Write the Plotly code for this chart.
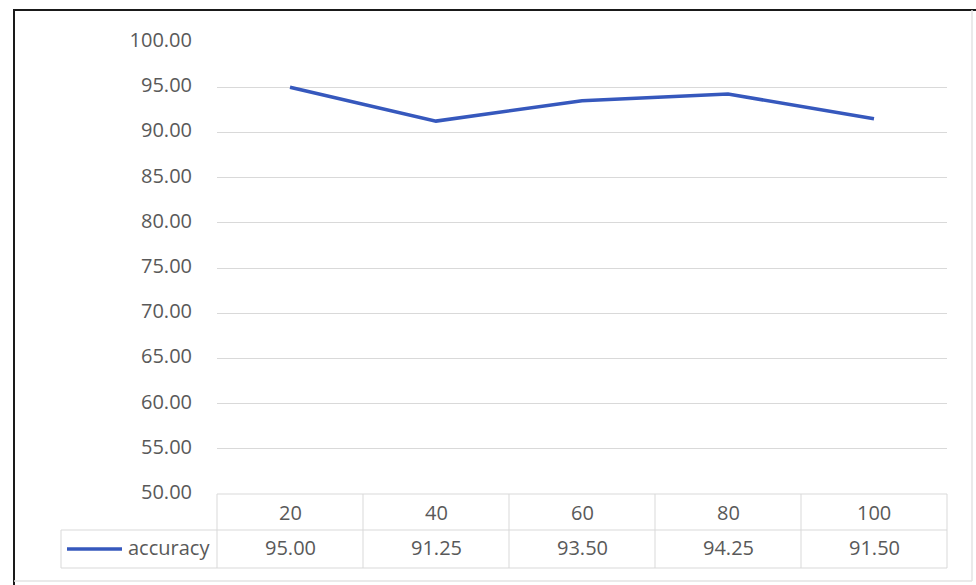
import plotly.graph_objects as go

# Data
categories = ["20", "40", "60", "80", "100"]
accuracy = [95.00, 91.25, 93.50, 94.25, 91.50]
series_name = "accuracy"
y_ticks = [50, 55, 60, 65, 70, 75, 80, 85, 90, 95, 100]

W, H = 976, 585
LINE_COLOR = "#3658BD"
TEXT_COLOR = "#595959"
GRID_COLOR = "#D9D9D9"
FONT = "Open Sans"
FS = 20

# plot-area geometry in pixels
L, R, T, B = 217, 947, 42, 494
ROW1, ROW2 = 530, 568      # table row separators
LEG_LEFT = 61


def px(x):
    return x / W


def py(y):
    return 1 - y / H


n = len(categories)
idx = list(range(n))

fig = go.Figure()
fig.add_trace(go.Scatter(
    x=idx, y=accuracy, mode="lines", name=series_name,
    line=dict(color=LINE_COLOR, width=3.5), showlegend=False,
))

shapes = []


def hline(x0, x1, y, color=GRID_COLOR, width=1):
    shapes.append(dict(type="line", xref="paper", yref="paper",
                       x0=px(x0), x1=px(x1), y0=py(y), y1=py(y),
                       line=dict(color=color, width=width)))


def vline(x, y0, y1, color=GRID_COLOR, width=1):
    shapes.append(dict(type="line", xref="paper", yref="paper",
                       x0=px(x), x1=px(x), y0=py(y0), y1=py(y1),
                       line=dict(color=color, width=width)))


# data table grid
hline(L, R, B)
hline(LEG_LEFT, R, ROW1)
hline(LEG_LEFT, R, ROW2)
vline(LEG_LEFT, ROW1, ROW2)
for i in range(n + 1):
    xb = L + i * (R - L) / n
    vline(xb, B, ROW2)

# legend key inside the table
hline(67, 122, 549, color=LINE_COLOR, width=3.5)

# outer frame: dark top/left, light right/bottom
hline(13, 976, 10, color="#1A1A1A", width=2)
vline(14, 10, 585, color="#1A1A1A", width=2)
vline(972, 10, 581, color="#E3E3E3", width=1.5)
hline(14, 972, 581, color="#E3E3E3", width=1.5)

txt_font = dict(family=FONT, size=FS, color=TEXT_COLOR)
annotations = []
for i, (cat, val) in enumerate(zip(categories, accuracy)):
    annotations.append(dict(x=i, xref="x", y=py(512), yref="paper",
                            text=cat, showarrow=False,
                            xanchor="center", yanchor="middle", font=txt_font))
    annotations.append(dict(x=i, xref="x", y=py(547), yref="paper",
                            text=f"{val:.2f}", showarrow=False,
                            xanchor="center", yanchor="middle", font=txt_font))
annotations.append(dict(x=px(126), xref="paper", y=py(547), yref="paper",
                        text=series_name, showarrow=False,
                        xanchor="left", yanchor="middle", font=txt_font))

fig.update_layout(
    width=W, height=H,
    margin=dict(l=0, r=0, t=0, b=0, pad=0, autoexpand=False),
    paper_bgcolor="white", plot_bgcolor="white",
    shapes=shapes, annotations=annotations,
    xaxis=dict(domain=[px(L), px(R)], range=[-0.5, n - 0.5],
               showticklabels=False, showgrid=False, zeroline=False,
               showline=False, fixedrange=True, automargin=False),
    yaxis=dict(domain=[py(B), py(T)], range=[50, 100],
               tickvals=y_ticks, tickformat=".2f",
               showgrid=True, gridcolor=GRID_COLOR, gridwidth=1,
               zeroline=False, showline=False, automargin=False,
               ticklabelstandoff=24, ticklabelshift=-2, fixedrange=True,
               tickfont=txt_font),
)

fig.write_html("out.html")
